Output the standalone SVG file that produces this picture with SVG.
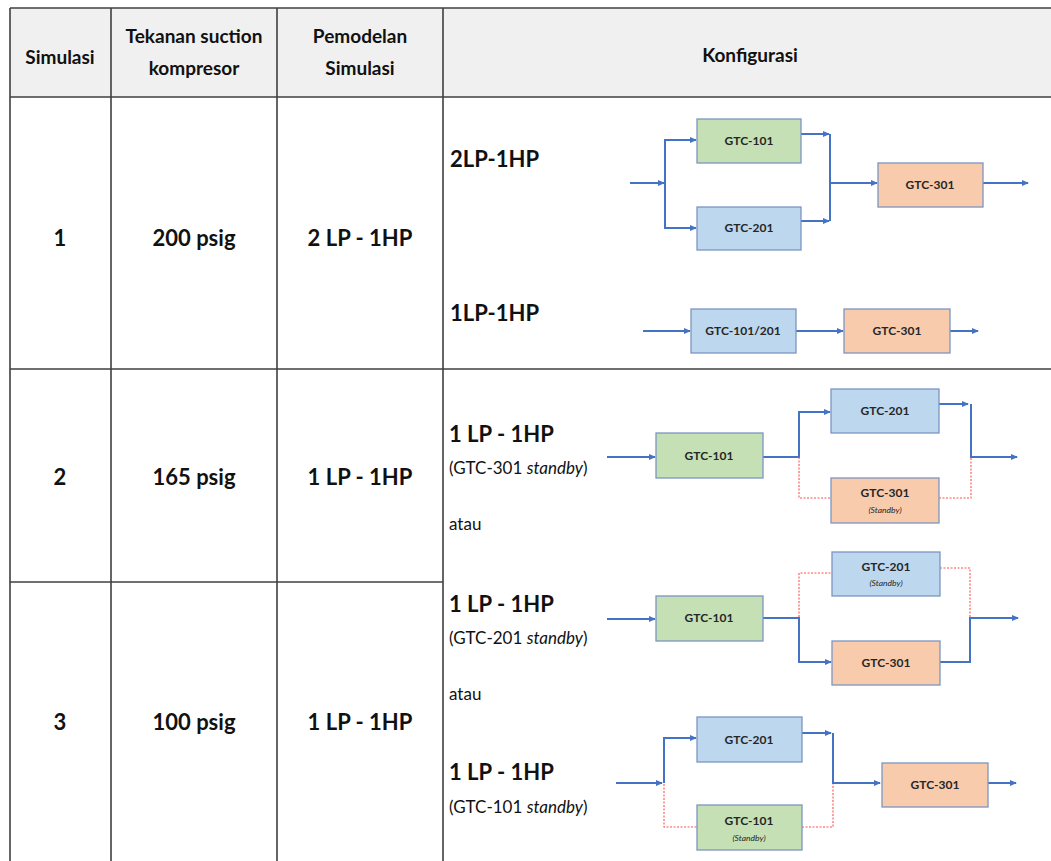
<svg xmlns="http://www.w3.org/2000/svg" width="1051" height="861" viewBox="0 0 1051 861">
<style>
.grid{stroke:#404040;stroke-width:1.6;fill:none}
.hd{font-family:Lato,"Liberation Sans",sans-serif;font-weight:bold;font-size:19px;fill:#111;text-anchor:middle}
.cell{font-family:Lato,"Liberation Sans",sans-serif;font-weight:bold;font-size:22px;fill:#111;text-anchor:middle}
.lbl{font-family:Lato,"Liberation Sans",sans-serif;font-weight:bold;font-size:22px;fill:#111}
.sub{font-family:Lato,"Liberation Sans",sans-serif;font-size:17px;fill:#111}
.box{stroke:#7b96c2;stroke-width:1.3}
.g{fill:#c5e0b4}.b{fill:#bdd7ee}.o{fill:#f8cbad}
.bt{font-family:Lato,"Liberation Sans",sans-serif;font-weight:bold;font-size:12px;fill:#262626;text-anchor:middle}
.st{font-family:Lato,"Liberation Sans",sans-serif;font-style:italic;font-size:8.5px;fill:#262626;text-anchor:middle}
.ln{stroke:#4472c4;stroke-width:2;fill:none}
.ar{marker-end:url(#ah)}
.rd{stroke:#ff5050;stroke-width:1.1;stroke-dasharray:2 1.5;fill:none}
</style>
<defs>
<marker id="ah" markerUnits="userSpaceOnUse" markerWidth="7" markerHeight="6" refX="6" refY="3" orient="auto">
<path d="M0,0 L7,3 L0,6 z" fill="#4472c4"/>
</marker>
</defs>
<rect width="1051" height="861" fill="#fff"/>
<g id="table">
<rect x="10" y="8" width="1041" height="89" fill="#f0f0f0"/>
<path class="grid" d="M10,8 H1051 M10,97 H1051 M10,369 H1051 M10,582 H443 M10,8 V861 M111,8 V861 M277,8 V861 M443,8 V861"/>
<text class="hd" x="60" y="64">Simulasi</text>
<text class="hd" x="194" y="43">Tekanan suction</text>
<text class="hd" x="194" y="75">kompresor</text>
<text class="hd" x="360" y="43">Pemodelan</text>
<text class="hd" x="360" y="75">Simulasi</text>
<text class="hd" x="750" y="62">Konfigurasi</text>
<text class="cell" x="60" y="246">1</text>
<text class="cell" x="194" y="246">200 psig</text>
<text class="cell" x="360" y="246">2 LP - 1HP</text>
<text class="cell" x="60" y="485">2</text>
<text class="cell" x="194" y="485">165 psig</text>
<text class="cell" x="360" y="485">1 LP - 1HP</text>
<text class="cell" x="60" y="730">3</text>
<text class="cell" x="194" y="730">100 psig</text>
<text class="cell" x="360" y="730">1 LP - 1HP</text>
<text class="lbl" x="450" y="167">2LP-1HP</text>
<text class="lbl" x="450" y="321">1LP-1HP</text>
<text class="lbl" x="449" y="442">1 LP - 1HP</text>
<text class="sub" x="449" y="474">(GTC-301 <tspan font-style="italic">standby</tspan>)</text>
<text class="sub" x="449" y="530">atau</text>
<text class="lbl" x="449" y="612">1 LP - 1HP</text>
<text class="sub" x="449" y="644">(GTC-201 <tspan font-style="italic">standby</tspan>)</text>
<text class="sub" x="449" y="700">atau</text>
<text class="lbl" x="449" y="780">1 LP - 1HP</text>
<text class="sub" x="449" y="813">(GTC-101 <tspan font-style="italic">standby</tspan>)</text>
</g>
<g id="connectors">
<path class="ln ar" d="M630,183 H664"/>
<path class="ln ar" d="M665,183 V140 H696"/>
<path class="ln ar" d="M665,183 V228 H696"/>
<path class="ln ar" d="M801,134 H829"/>
<path class="ln" d="M830,134 V221"/>
<path class="ln ar" d="M801,221 H829"/>
<path class="ln ar" d="M830,183 H877"/>
<path class="ln ar" d="M983,183 H1028"/>
<path class="ln ar" d="M643,331 H690"/>
<path class="ln ar" d="M796,331 H843"/>
<path class="ln ar" d="M950,331 H978"/>
<path class="ln ar" d="M607,457 H655"/>
<path class="ln ar" d="M763,457 H799 V412 H830"/>
<path class="rd" d="M799,457 V498 H831"/>
<path class="ln ar" d="M939,404 H968"/>
<path class="ln ar" d="M971,404 V457 H1017"/>
<path class="rd" d="M939,498 H971 V458"/>
<path class="ln ar" d="M607,619 H655"/>
<path class="ln ar" d="M763,618 H799 V662 H831"/>
<path class="rd" d="M799,617 V573 H832"/>
<path class="ln ar" d="M940,662 H970 V618 H1018"/>
<path class="rd" d="M940,568 H970 V617"/>
<path class="ln ar" d="M616,783 H662"/>
<path class="ln ar" d="M664,783 V738 H696"/>
<path class="rd" d="M664,784 V827 H697"/>
<path class="ln ar" d="M802,733 H831"/>
<path class="ln ar" d="M833,733 V783 H880"/>
<path class="rd" d="M802,827 H833 V784"/>
<path class="ln ar" d="M988,783 H1016"/>
</g>
<g id="d1-gtc101"><rect class="box g" x="697" y="119" width="104" height="44"/><text class="bt" x="749" y="145">GTC-101</text></g>
<g id="d1-gtc201"><rect class="box b" x="697" y="207" width="104" height="43"/><text class="bt" x="749" y="232">GTC-201</text></g>
<g id="d1-gtc301"><rect class="box o" x="878" y="163" width="105" height="44"/><text class="bt" x="930" y="189">GTC-301</text></g>
<g id="d2-gtc101-201"><rect class="box b" x="691" y="309" width="105" height="44"/><text class="bt" x="743" y="335">GTC-101/201</text></g>
<g id="d2-gtc301"><rect class="box o" x="844" y="309" width="106" height="44"/><text class="bt" x="897" y="335">GTC-301</text></g>
<g id="d3-gtc101"><rect class="box g" x="656" y="433" width="107" height="45"/><text class="bt" x="709" y="460">GTC-101</text></g>
<g id="d3-gtc201"><rect class="box b" x="831" y="389" width="108" height="44"/><text class="bt" x="885" y="415">GTC-201</text></g>
<g id="d3-gtc301"><rect class="box o" x="831" y="478" width="108" height="45"/><text class="bt" x="885" y="497">GTC-301</text><text class="st" x="885" y="513">(Standby)</text></g>
<g id="d4-gtc101"><rect class="box g" x="656" y="596" width="107" height="45"/><text class="bt" x="709" y="622">GTC-101</text></g>
<g id="d4-gtc201"><rect class="box b" x="832" y="552" width="108" height="44"/><text class="bt" x="886" y="571">GTC-201</text><text class="st" x="886" y="586">(Standby)</text></g>
<g id="d4-gtc301"><rect class="box o" x="832" y="641" width="108" height="44"/><text class="bt" x="886" y="667">GTC-301</text></g>
<g id="d5-gtc201"><rect class="box b" x="697" y="717" width="105" height="45"/><text class="bt" x="749" y="744">GTC-201</text></g>
<g id="d5-gtc101"><rect class="box g" x="697" y="805" width="105" height="45"/><text class="bt" x="749" y="825">GTC-101</text><text class="st" x="749" y="841">(Standby)</text></g>
<g id="d5-gtc301"><rect class="box o" x="882" y="763" width="106" height="44"/><text class="bt" x="935" y="789">GTC-301</text></g>
</svg>
